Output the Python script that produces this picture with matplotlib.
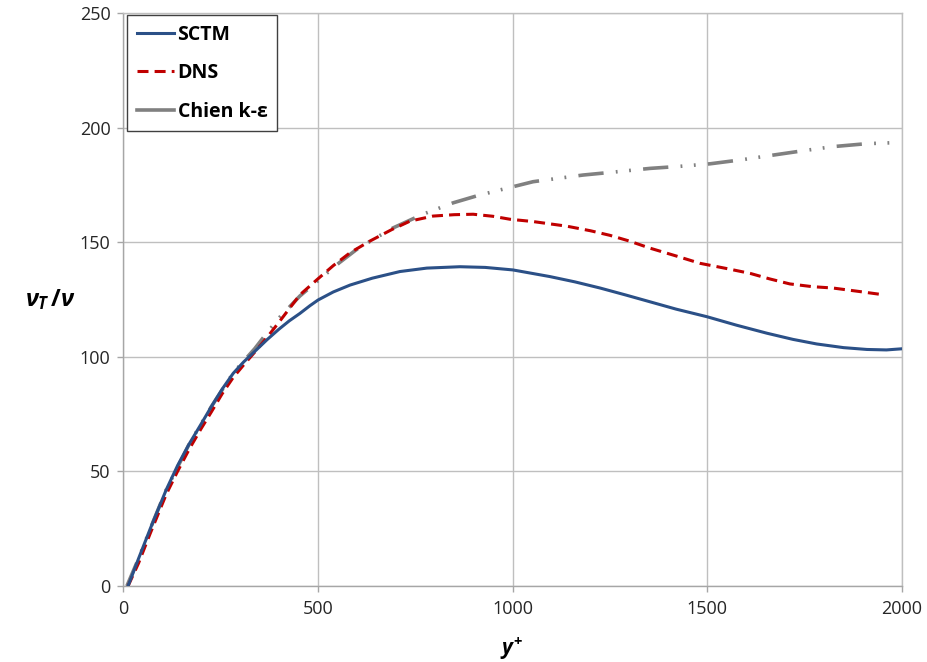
import matplotlib
matplotlib.use("Agg")
import matplotlib.pyplot as plt
from matplotlib.lines import Line2D

plt.rcParams['font.family'] = ['Open Sans', 'DejaVu Sans']
plt.rcParams['mathtext.fontset'] = 'custom'
plt.rcParams['mathtext.it'] = 'Open Sans:italic:bold'
plt.rcParams['mathtext.rm'] = 'Open Sans:bold'
plt.rcParams['mathtext.bf'] = 'Open Sans:bold'

# ---- data ----
sctm_x = [13, 40, 70, 111, 140, 171, 200, 227, 255, 283, 310, 338, 370, 400, 427,
          454, 480, 501, 540, 583, 640, 711, 780, 865, 930, 1001, 1096, 1160, 1225,
          1290, 1353, 1420, 1499, 1575, 1653, 1720, 1781, 1850, 1910, 1960, 2000]
sctm_y = [0, 12, 25, 42, 52.5, 62.3, 70.5, 78.3, 86, 92.8, 97.8, 102.3, 107.5, 112,
          115.7, 118.9, 122.3, 124.8, 128.3, 131.3, 134.3, 137.2, 138.7, 139.3, 139,
          137.9, 135, 132.7, 130, 127, 124, 120.8, 117.5, 113.8, 110.3, 107.6, 105.6,
          104, 103.2, 103, 103.5]

dns_x = [13, 40, 70, 111, 140, 171, 200, 227, 255, 283, 310, 338, 370, 400, 427, 454,
         497, 540, 583, 634, 690, 737, 796, 850, 899, 950, 994, 1053, 1139, 1200, 1250,
         1300, 1353, 1420, 1481, 1550, 1610, 1660, 1712, 1770, 1823, 1890, 1955]
dns_y = [0, 10, 23, 40, 50, 60, 68.5, 76, 84, 91, 96.5, 102, 108.5, 115, 121, 127,
         133.5, 139.8, 145.4, 150.5, 155.5, 159.2, 161.4, 162, 162.2, 161.3, 160, 159,
         157, 155, 153, 150.5, 147.4, 144, 140.8, 138.5, 136.4, 134, 131.8, 130.6, 130,
         128.5, 127]

chien_x = [10, 40, 70, 111, 171, 227, 283, 338, 370, 403, 454, 513, 555, 598, 645,
           693, 770, 848, 910, 968, 1053, 1181, 1260, 1353, 1430, 1507, 1590, 1669,
           1750, 1823, 1910, 1995]
chien_y = [0, 12, 25, 42, 62.3, 78.3, 93, 103.5, 110.5, 117.4, 126.5, 135, 141, 146.6,
           151.5, 156.2, 162.2, 167.2, 170.3, 172.8, 176.4, 179.3, 180.6, 182.2, 183.1,
           184.2, 186, 188, 190, 191.7, 193, 193.5]

xticks = [0, 500, 1000, 1500, 2000]
yticks = [0, 50, 100, 150, 200, 250]
labels = ['SCTM', 'DNS', 'Chien k-ε']

# ---- figure ----
W, H = 927, 662
fig = plt.figure(figsize=(W / 100, H / 100), dpi=100)
ax = fig.add_axes([123 / W, 1 - 586 / H, 779 / W, 573 / H])

c_sctm = '#2B5087'
c_dns = '#C00000'
c_chien = '#808080'

ax.plot(chien_x, chien_y, color=c_chien, lw=2.6,
        linestyle=(0, (7.0, 3.4, 0.5, 3.2, 0.5, 3.4)), zorder=3)
ax.plot(dns_x, dns_y, color=c_dns, lw=2.2, linestyle=(0, (3.6, 2.0)), zorder=4)
ax.plot(sctm_x, sctm_y, color=c_sctm, lw=2.2, zorder=5)

ax.set_xlim(0, 2000)
ax.set_ylim(0, 250)
ax.set_xticks(xticks)
ax.set_yticks(yticks)
ax.grid(True, color='#BFBFBF', lw=1.0)
ax.set_axisbelow(True)
for s in ax.spines.values():
    s.set_color('#BFBFBF')
    s.set_linewidth(1.0)
ax.spines['left'].set_color('#A6A6A6')
ax.spines['bottom'].set_color('#A6A6A6')
ax.tick_params(axis='both', labelsize=13, colors='#A6A6A6', labelcolor='#262626',
               length=4, width=1)
ax.tick_params(axis='x', pad=6)
ax.tick_params(axis='y', pad=5)

fig.text(512 / W, 1 - 648 / H, r'$y^{+}$', fontsize=15, ha='center', va='center')
fig.text(50 / W, 1 - 300 / H, r'$\nu_T\,/\nu$', fontsize=17, ha='center', va='center')

handles = [
    Line2D([], [], color=c_sctm, lw=2.2),
    Line2D([], [], color=c_dns, lw=2.2, linestyle=(0, (3.6, 2.0))),
    Line2D([], [], color=c_chien, lw=2.6),
]
leg = ax.legend(handles, labels, loc='upper left', bbox_to_anchor=(4 / 779, 1 - 2 / 573),
                borderaxespad=0, fancybox=False, framealpha=1, edgecolor='#404040',
                prop={'weight': 'bold', 'size': 14}, handlelength=1.9,
                handletextpad=0.2, labelspacing=0.95, borderpad=0.5)
leg.get_frame().set_linewidth(1.0)

fig.savefig('out.png', dpi=100)
